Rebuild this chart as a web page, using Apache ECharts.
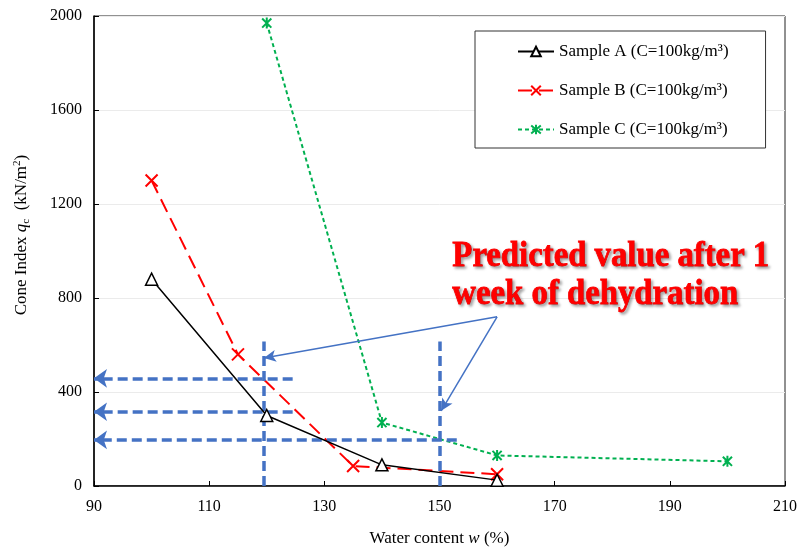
<!DOCTYPE html>
<html>
<head>
<meta charset="utf-8">
<script src="https://cdn.jsdelivr.net/npm/echarts@6/dist/echarts.min.js"></script>
<style>
  html, body { margin: 0; padding: 0; background: #fff; }
  #chart { width: 798px; height: 549px; }
</style>
</head>
<body>
<div id="chart"></div>
<script>
// Water content (%) and cone index (kN/m²) for each sample
const sampleAWater = [100, 120, 140, 160];
const sampleAIndex = [880, 300, 90, 25];
const sampleBWater = [100, 115, 135, 160];
const sampleBIndex = [1300, 560, 85, 50];
const sampleCWater = [120, 140, 160, 200];
const sampleCIndex = [1970, 270, 130, 105];

const seriesNames = ['Sample A (C=100kg/m³)', 'Sample B (C=100kg/m³)', 'Sample C (C=100kg/m³)'];

// Predicted values after one week of dehydration
const predictedWater = [119.5, 150];          // vertical guide lines
const predictedIndex = [458, 316, 196];        // horizontal read-off lines
const readOffEnds = [124.5, 124.5, 153];      // right end of each read-off line
const guideTop = 615;
const calloutOrigin = [160, 720];
const calloutTargets = [[119.5, 545], [150.3, 320]];

const xTicks = { min: 90, max: 210, interval: 20 };
const yTicks = { min: 0, max: 2000, interval: 400 };

const zip = (xs, ys) => xs.map((x, i) => [x, ys[i]]);

const FONT = '"Liberation Serif", "Times New Roman", serif';
const BLUE = '#4472C4';
const CROSS = 'path://M0,0L10,10M10,0L0,10';
const STAR = 'path://M0,0L10,10M10,0L0,10M5,-1L5,11';

const chart = echarts.init(document.getElementById('chart'), null, { renderer: 'canvas' });

const guideLines = predictedWater.map(x => [{ coord: [x, 0] }, { coord: [x, guideTop] }]);
const readOffLines = predictedIndex.map((y, i) => [
  { coord: [readOffEnds[i], y] }, { coord: [xTicks.min, y] }
]);
const calloutLines = calloutTargets.map(t => [{ coord: calloutOrigin }, { coord: t }]);

const markLineBase = {
  silent: true,
  animation: false,
  label: { show: false },
  emphasis: { disabled: true }
};

chart.setOption({
  animation: false,
  textStyle: { fontFamily: FONT },
  grid: {
    left: 94, right: 13, top: 16, bottom: 63,
    outerBoundsMode: 'none',
    containLabel: false,
    show: true, borderColor: '#222', borderWidth: 1
  },
  legend: {
    orient: 'vertical',
    left: 475, top: 31,
    padding: [12, 37, 10, 42],
    itemWidth: 36, itemHeight: 12,
    itemGap: 22,
    backgroundColor: '#fff',
    borderColor: '#333', borderWidth: 1,
    textStyle: { fontFamily: FONT, fontSize: 17, color: '#000' },
    data: seriesNames
  },
  xAxis: {
    type: 'value',
    min: xTicks.min, max: xTicks.max, interval: xTicks.interval,
    name: 'Water content {i|w} (%)',
    nameLocation: 'middle', nameGap: 44,
    nameTextStyle: {
      fontFamily: FONT, fontSize: 17, color: '#000',
      rich: { i: { fontFamily: FONT, fontSize: 17, fontStyle: 'italic', color: '#000' } }
    },
    axisLine: { show: true, lineStyle: { color: '#000', width: 1.5 } },
    axisTick: { show: true, inside: true, length: 5, lineStyle: { color: '#000' } },
    axisLabel: { fontFamily: FONT, fontSize: 16, color: '#000', margin: 13 },
    splitLine: { show: false }
  },
  yAxis: {
    type: 'value',
    min: yTicks.min, max: yTicks.max, interval: yTicks.interval,
    axisLine: { show: true, lineStyle: { color: '#000', width: 1.5 } },
    axisTick: { show: true, inside: true, length: 5, lineStyle: { color: '#000' } },
    axisLabel: {
      fontFamily: FONT, fontSize: 16, color: '#000', margin: 12,
      formatter: v => String(v)
    },
    splitLine: { show: true, lineStyle: { color: '#ebebeb', width: 1 } }
  },
  graphic: [
    {
      type: 'text',
      x: 22, y: 235,
      rotation: Math.PI / 2,
      style: {
        text: '{n|Cone Index }{i|q}{s|c}{n|  (kN/m}{p|2}{n|)}',
        align: 'center', verticalAlign: 'middle',
        rich: {
          n: { fontFamily: FONT, fontSize: 17, lineHeight: 20, fill: '#000' },
          i: { fontFamily: FONT, fontSize: 17, fontStyle: 'italic', lineHeight: 20, fill: '#000' },
          s: { fontFamily: FONT, fontSize: 11, lineHeight: 10, verticalAlign: 'bottom', fill: '#000' },
          p: { fontFamily: FONT, fontSize: 11, lineHeight: 12, verticalAlign: 'top', fill: '#000' }
        }
      }
    },
    {
      type: 'text',
      left: 452, top: 238,
      scaleX: 0.91,
      style: {
        text: 'Predicted value after 1\nweek of dehydration',
        font: 'bold 36px ' + FONT,
        fill: '#FF0000',
        stroke: '#FF0000',
        lineWidth: 0.8,
        lineHeight: 38,
        textShadowColor: 'rgba(0,0,0,0.35)',
        textShadowBlur: 3,
        textShadowOffsetX: 2,
        textShadowOffsetY: 2
      },
      z: 100
    }
  ],
  series: [
    {
      name: seriesNames[0],
      type: 'line',
      data: zip(sampleAWater, sampleAIndex),
      symbol: 'triangle', symbolSize: 12,
      lineStyle: { color: '#000', width: 1.5 },
      itemStyle: { color: '#fff', borderColor: '#000', borderWidth: 1.5 },
      z: 5
    },
    {
      name: seriesNames[1],
      type: 'line',
      data: zip(sampleBWater, sampleBIndex),
      symbol: CROSS, symbolSize: 12, symbolKeepAspect: true,
      lineStyle: { color: '#FF0000', width: 2, type: [14, 7] },
      itemStyle: { color: '#FF0000', borderColor: '#FF0000', borderWidth: 2 },
      z: 4
    },
    {
      name: seriesNames[2],
      type: 'line',
      data: zip(sampleCWater, sampleCIndex),
      symbol: STAR, symbolSize: 11, symbolKeepAspect: true,
      lineStyle: { color: '#00B050', width: 2, type: [4, 3] },
      itemStyle: { color: '#00B050', borderColor: '#00B050', borderWidth: 2 },
      z: 3
    },
    {
      name: 'guides',
      type: 'line',
      data: [],
      silent: true,
      markLine: Object.assign({}, markLineBase, {
        symbol: ['none', 'none'],
        lineStyle: { color: BLUE, width: 3.5, type: [10, 5] },
        data: guideLines
      }),
      z: 6
    },
    {
      name: 'readOff',
      type: 'line',
      data: [],
      silent: true,
      markLine: Object.assign({}, markLineBase, {
        symbol: ['none', 'arrow'],
        symbolSize: [14, 13],
        lineStyle: { color: BLUE, width: 3.5, type: [10, 5] },
        data: readOffLines
      }),
      z: 6
    },
    {
      name: 'callout',
      type: 'line',
      data: [],
      silent: true,
      markLine: Object.assign({}, markLineBase, {
        symbol: ['none', 'arrow'],
        symbolSize: [9, 12],
        lineStyle: { color: BLUE, width: 1.5, type: 'solid' },
        data: calloutLines
      }),
      z: 7
    }
  ]
});
</script>
</body>
</html>
